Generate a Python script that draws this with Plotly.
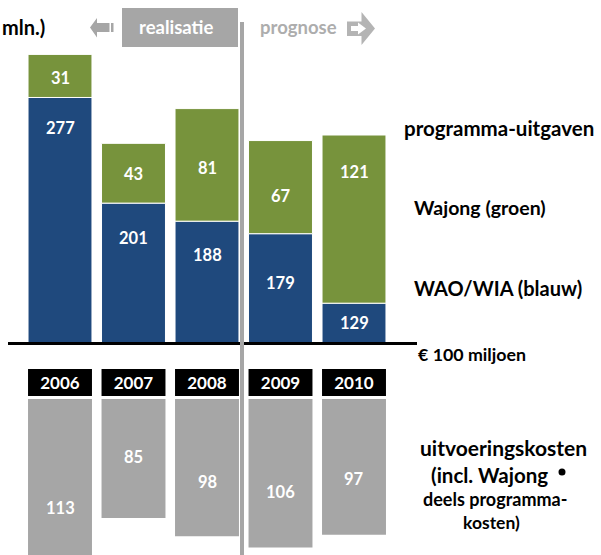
import plotly.graph_objects as go

# ---- data ----
years = ["2006", "2007", "2008", "2009", "2010"]
wao_wia = [277, 201, 188, 179, 129]      # blauw (base = 100 mln)
wajong = [31, 43, 81, 67, 121]           # groen
uitvoering = [113, 85, 98, 106, 97]      # grijs
base_value = 100

# label placement (fractions of visible segment) - styling only
green_lab = [0.45, 0.49, 0.47, 0.41, 0.78]
blue_lab = [0.876, 0.75, 0.72, 0.55, 0.51]
grey_lab = [0.69, 0.49, 0.605, 0.63, 0.59]

W, H = 601, 555
GREEN = "#77933C"
BLUE = "#1F497D"
GREY = "#A6A6A6"
FONT = "Lato"


def px(x):
    return x / W


def py(y):
    return 1 - y / H


fig = go.Figure()

# top: stacked programme expenditure starting at 100
fig.add_trace(go.Bar(
    x=years, y=[v - base_value for v in wao_wia], base=[base_value] * len(years),
    marker=dict(color=BLUE, line=dict(color="white", width=1)),
    width=0.87, xaxis="x", yaxis="y", hoverinfo="skip"))
fig.add_trace(go.Bar(
    x=years, y=wajong, base=wao_wia,
    marker=dict(color=GREEN, line=dict(color="white", width=1)),
    width=0.87, xaxis="x", yaxis="y", hoverinfo="skip"))

# year boxes
fig.add_trace(go.Bar(
    x=years, y=[1] * len(years), base=[0] * len(years),
    marker=dict(color="black", line=dict(width=0)),
    text=["<b>%s</b>" % y for y in years], textposition="inside",
    insidetextanchor="middle",
    textfont=dict(family=FONT, size=17, color="white"),
    width=0.87, xaxis="x", yaxis="y3", hoverinfo="skip"))

# bottom: execution costs hanging down
fig.add_trace(go.Bar(
    x=years, y=[-v for v in uitvoering], base=[0] * len(years),
    marker=dict(color=GREY, line=dict(width=0)),
    width=0.87, xaxis="x", yaxis="y2", hoverinfo="skip"))

ann = []
for i, yr in enumerate(years):
    ann.append(dict(x=i, y=wao_wia[i] + wajong[i] * green_lab[i], xref="x", yref="y",
                    text="<b>%d</b>" % wajong[i], showarrow=False,
                    font=dict(family=FONT, size=16.5, color="white")))
    ann.append(dict(x=i, y=base_value + (wao_wia[i] - base_value) * blue_lab[i], xref="x", yref="y",
                    text="<b>%d</b>" % wao_wia[i], showarrow=False,
                    font=dict(family=FONT, size=16.5, color="white")))
    ann.append(dict(x=i, y=-uitvoering[i] * grey_lab[i], xref="x", yref="y2",
                    text="<b>%d</b>" % uitvoering[i], showarrow=False,
                    font=dict(family=FONT, size=16.5, color="white")))


def txt(t, x, y, size, color="black", xanchor="center"):
    ann.append(dict(x=px(x), y=py(y), xref="paper", yref="paper", text=t,
                    showarrow=False, xanchor=xanchor, yanchor="middle",
                    font=dict(family=FONT, size=size, color=color)))


txt("<b>realisatie</b>", 176, 27, 18.5, "white")
txt("<b>prognose</b>", 298, 27, 18.5, "#ADADAD")
txt("<b>mln.)</b>", 47, 27, 20, "black", xanchor="right")
txt("<b>programma-uitgaven</b>", 402, 128, 20.5, xanchor="left")
txt("<b>Wajong (groen)</b>", 412, 208, 19.5, xanchor="left")
txt("<b>WAO/WIA (blauw)</b>", 412, 288, 20, xanchor="left")
txt("<b>€ 100 miljoen</b>", 416, 354, 17.8, xanchor="left")
txt("<b>uitvoeringskosten</b>", 503, 447, 21)
txt("<b>(incl. Wajong</b>", 489, 475, 20.5)
txt("<b>deels programma-</b>", 495, 499, 18)
txt("<b>kosten)</b>", 491, 522, 17.5)

shapes = []
# bullet
shapes.append(dict(type="circle", xref="paper", yref="paper",
                   x0=px(558.5), x1=px(565.5), y0=py(468.5), y1=py(475.5),
                   fillcolor="black", line=dict(width=0)))
# realisatie box
shapes.append(dict(type="rect", xref="paper", yref="paper",
                   x0=px(122), x1=px(238), y0=py(47), y1=py(8),
                   fillcolor=GREY, line=dict(width=0), layer="below"))


def path(points):
    return "M " + " L ".join("%f,%f" % (px(a), py(b)) for a, b in points) + " Z"


# left arrow
shapes.append(dict(type="path", xref="paper", yref="paper", line=dict(width=0), fillcolor=GREY,
                   path=path([(90, 27.5), (97, 18), (97, 23), (109.5, 23), (109.5, 32),
                              (97, 32), (97, 37.5)])))
shapes.append(dict(type="rect", xref="paper", yref="paper", line=dict(width=0), fillcolor=GREY,
                   x0=px(111), x1=px(113.5), y0=py(32), y1=py(23)))
# right arrow
shapes.append(dict(type="path", xref="paper", yref="paper", line=dict(width=0), fillcolor="#B4B4B4",
                   path=path([(347, 21.5), (361.5, 21.5), (361.5, 12), (375, 28.5),
                              (361.5, 45), (361.5, 36), (347, 36)])))
shapes.append(dict(type="path", xref="paper", yref="paper", line=dict(width=0), fillcolor="white",
                   path=path([(351, 26), (358, 26), (358, 22.5), (366, 28.5),
                              (358, 34.5), (358, 31), (351, 31)])))
# baseline
shapes.append(dict(type="line", xref="paper", yref="paper",
                   x0=px(8), x1=px(417), y0=py(343.5), y1=py(343.5),
                   line=dict(color="black", width=3)))
# separator realisatie / prognose
shapes.append(dict(type="line", xref="paper", yref="paper",
                   x0=px(242), x1=px(242), y0=py(22), y1=py(555),
                   line=dict(color=GREY, width=4)))

slot = 73.5
c0 = 60
xr = [-(c0) / slot, (W - c0) / slot]

hidden = dict(showgrid=False, zeroline=False, showline=False, showticklabels=False,
              ticks="", fixedrange=True)

fig.update_layout(
    width=W, height=H, autosize=False,
    margin=dict(l=0, r=0, t=0, b=0, pad=0),
    paper_bgcolor="white", plot_bgcolor="rgba(0,0,0,0)",
    barmode="overlay", showlegend=False,
    xaxis=dict(type="category", categoryorder="array", categoryarray=years,
               range=xr, domain=[0, 1], **hidden),
    yaxis=dict(domain=[py(343.5), 1], range=[base_value, base_value + 343.5 / 1.39],
               anchor="x", **hidden),
    yaxis2=dict(domain=[0, py(399)], range=[-(555 - 399) / 1.40, 0],
                anchor="x", **hidden),
    yaxis3=dict(domain=[py(396), py(369)], range=[0, 1], anchor="x", **hidden),
    annotations=ann, shapes=shapes,
)

fig.write_html("out.html", config={"displayModeBar": False},
               post_script="document.body.style.margin='0';document.body.style.overflow='hidden';")
